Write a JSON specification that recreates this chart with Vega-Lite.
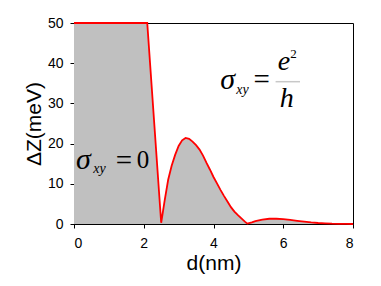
{
  "$schema": "https://vega.github.io/schema/vega-lite/v6.json",
  "width": 279,
  "height": 201,
  "autosize": {"type": "none"},
  "padding": {"left": 74, "top": 23, "right": 28, "bottom": 62},
  "background": "white",
  "config": {
    "view": {"stroke": "black", "strokeWidth": 1},
    "axis": {
      "grid": false,
      "domainColor": "black",
      "tickColor": "black",
      "labelColor": "black",
      "titleColor": "black",
      "labelFont": "Liberation Sans",
      "titleFont": "Liberation Sans",
      "labelFontSize": 14,
      "titleFontSize": 21,
      "titleFontWeight": "normal",
      "tickSize": 4
    }
  },
  "datasets": {
    "curve": [
      {"d": 0, "dz": 50}, {"d": 2.1, "dz": 50}, {"d": 2.5, "dz": 0.3},
      {"d": 2.55, "dz": 3.1}, {"d": 2.6, "dz": 5.9}, {"d": 2.7, "dz": 11.0},
      {"d": 2.8, "dz": 14.5}, {"d": 2.9, "dz": 17.2}, {"d": 3.0, "dz": 19.4},
      {"d": 3.1, "dz": 20.8}, {"d": 3.2, "dz": 21.4}, {"d": 3.3, "dz": 21.2},
      {"d": 3.4, "dz": 20.5}, {"d": 3.5, "dz": 19.6}, {"d": 3.6, "dz": 18.5},
      {"d": 3.7, "dz": 17.0}, {"d": 3.8, "dz": 15.2}, {"d": 3.9, "dz": 13.5},
      {"d": 4.0, "dz": 11.7}, {"d": 4.1, "dz": 10.1}, {"d": 4.2, "dz": 8.5},
      {"d": 4.3, "dz": 7.0}, {"d": 4.4, "dz": 5.6}, {"d": 4.5, "dz": 4.2},
      {"d": 4.6, "dz": 3.1}, {"d": 4.7, "dz": 2.2}, {"d": 4.8, "dz": 1.4},
      {"d": 4.9, "dz": 0.6}, {"d": 4.97, "dz": 0.1}, {"d": 5.1, "dz": 0.4},
      {"d": 5.2, "dz": 0.7}, {"d": 5.4, "dz": 1.1}, {"d": 5.6, "dz": 1.3},
      {"d": 5.8, "dz": 1.3}, {"d": 6.0, "dz": 1.2}, {"d": 6.2, "dz": 1.0},
      {"d": 6.4, "dz": 0.8}, {"d": 6.6, "dz": 0.6}, {"d": 6.8, "dz": 0.4},
      {"d": 7.0, "dz": 0.25}, {"d": 7.2, "dz": 0.15}, {"d": 7.4, "dz": 0.07},
      {"d": 7.6, "dz": 0.03}, {"d": 7.8, "dz": 0.01}, {"d": 8.0, "dz": 0}
    ],
    "sigma": [
      {"t": "σ", "x": 0.06, "y": 13.6},
      {"t": "σ", "x": 4.19, "y": 33.7}
    ],
    "italicBig": [
      {"t": "e", "x": 5.84, "y": 38.3},
      {"t": "h", "x": 5.9, "y": 29.1}
    ],
    "sub": [
      {"t": "xy", "x": 0.55, "y": 12.6},
      {"t": "xy", "x": 4.65, "y": 32.4}
    ],
    "equals": [
      {"t": "=", "x": 1.2, "y": 13.4},
      {"t": "=", "x": 5.15, "y": 33.5}
    ],
    "digit": [
      {"t": "0", "x": 1.8, "y": 13.85}
    ],
    "sup": [
      {"t": "2", "x": 6.2, "y": 41.3}
    ],
    "bar": [
      {"x": 5.78, "x2": 6.48, "y": 35.4}
    ]
  },
  "layer": [
    {
      "data": {"name": "curve"},
      "mark": {"type": "area", "color": "#c0c0c0", "interpolate": "linear"},
      "encoding": {
        "x": {"field": "d", "type": "quantitative",
              "scale": {"domain": [0, 8], "nice": false},
              "axis": {"values": [0, 2, 4, 6, 8], "title": "d(nm)", "labelPadding": 8, "titlePadding": 2}},
        "y": {"field": "dz", "type": "quantitative",
              "scale": {"domain": [0, 50], "nice": false},
              "axis": {"values": [0, 10, 20, 30, 40, 50], "title": "ΔZ(meV)", "labelPadding": 7, "titlePadding": 3}}
      }
    },
    {
      "data": {"name": "curve"},
      "mark": {"type": "line", "color": "#ff0000", "strokeWidth": 1.8},
      "encoding": {
        "x": {"field": "d", "type": "quantitative"},
        "y": {"field": "dz", "type": "quantitative"}
      }
    },
    {
      "data": {"name": "sigma"},
      "mark": {"type": "text", "font": "Liberation Serif", "fontStyle": "italic", "fontSize": 30, "align": "left", "baseline": "alphabetic", "color": "black"},
      "encoding": {
        "x": {"field": "x", "type": "quantitative"},
        "y": {"field": "y", "type": "quantitative"},
        "text": {"field": "t"}
      }
    },
    {
      "data": {"name": "italicBig"},
      "mark": {"type": "text", "font": "Liberation Serif", "fontStyle": "italic", "fontSize": 28, "align": "left", "baseline": "alphabetic", "color": "black"},
      "encoding": {
        "x": {"field": "x", "type": "quantitative"},
        "y": {"field": "y", "type": "quantitative"},
        "text": {"field": "t"}
      }
    },
    {
      "data": {"name": "sub"},
      "mark": {"type": "text", "font": "Liberation Serif", "fontStyle": "italic", "fontSize": 14, "align": "left", "baseline": "alphabetic", "color": "black"},
      "encoding": {
        "x": {"field": "x", "type": "quantitative"},
        "y": {"field": "y", "type": "quantitative"},
        "text": {"field": "t"}
      }
    },
    {
      "data": {"name": "equals"},
      "mark": {"type": "text", "font": "Liberation Serif", "fontSize": 29, "align": "left", "baseline": "alphabetic", "color": "black"},
      "encoding": {
        "x": {"field": "x", "type": "quantitative"},
        "y": {"field": "y", "type": "quantitative"},
        "text": {"field": "t"}
      }
    },
    {
      "data": {"name": "digit"},
      "mark": {"type": "text", "font": "Liberation Serif", "fontSize": 25, "align": "left", "baseline": "alphabetic", "color": "black"},
      "encoding": {
        "x": {"field": "x", "type": "quantitative"},
        "y": {"field": "y", "type": "quantitative"},
        "text": {"field": "t"}
      }
    },
    {
      "data": {"name": "sup"},
      "mark": {"type": "text", "font": "Liberation Serif", "fontSize": 13, "align": "left", "baseline": "alphabetic", "color": "black"},
      "encoding": {
        "x": {"field": "x", "type": "quantitative"},
        "y": {"field": "y", "type": "quantitative"},
        "text": {"field": "t"}
      }
    },
    {
      "data": {"name": "bar"},
      "mark": {"type": "rule", "color": "#c8c8c8", "strokeWidth": 1.5},
      "encoding": {
        "x": {"field": "x", "type": "quantitative"},
        "x2": {"field": "x2"},
        "y": {"field": "y", "type": "quantitative"}
      }
    }
  ]
}
